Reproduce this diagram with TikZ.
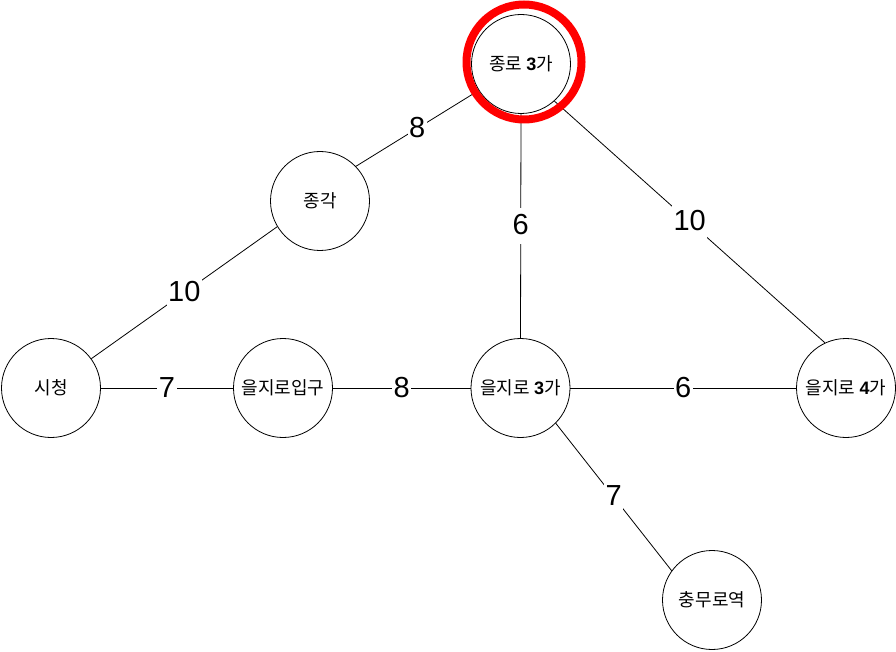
\documentclass[tikz,border=0pt]{standalone}
\usepackage{fontspec}
\setmainfont{Liberation Sans}
\newfontfamily\kr{Noto Sans CJK KR}
\newcommand\bdig[1]{{\normalfont\bfseries #1}}
\begin{document}
\begin{tikzpicture}[x=1pt,y=-1pt,
  stn/.style={circle, draw, line width=0.8pt, minimum size=99pt, inner sep=0pt, font=\kr\fontsize{18}{20}\selectfont},
  edge/.style={draw, line width=0.8pt},
  lbl/.style={fill=white, font=\fontsize{29}{30}\selectfont, inner xsep=1.5pt, inner ysep=0pt, text height=27pt, text depth=9pt},
  ringstyle/.style={circle, draw=red, line width=8pt, minimum size=115pt, inner sep=0pt}]
\useasboundingbox (0,0) rectangle (896,652);
\node[stn] (jr3) at (521,64) {종로 \bdig{3}가};
\node[stn] (jg) at (320,201) {종각};
\node[stn] (sc) at (51,388) {시청};
\node[stn] (ej) at (283,388) {을지로입구};
\node[stn] (e3) at (520.5,388) {을지로 \bdig{3}가};
\node[stn] (e4) at (846,388) {을지로 \bdig{4}가};
\node[stn] (cm) at (712,600) {충무로역};
\draw[edge] (jr3.212) -- node[lbl] (l1) {8} (jg.44);
\draw[edge] (jg.211) -- node[lbl] (l2) {10} (sc.36);
\draw[edge] (jr3.270) -- node[lbl] (l3) {6} (e3.90);
\draw[edge] (jr3.312) -- node[lbl] (l4) {10} (e4.115);
\draw[edge] (sc.east) -- node[lbl] (l5) {7} (ej.west);
\draw[edge] (ej.east) -- node[lbl] (l6) {8} (e3.west);
\draw[edge] (e3.east) -- node[lbl] (l7) {6} (e4.west);
\draw[edge] (e3.-45) -- node[lbl] (l8) {7} (cm.144);
\node[ringstyle] (ring) at (524,62) {};
\end{tikzpicture}
\end{document}
